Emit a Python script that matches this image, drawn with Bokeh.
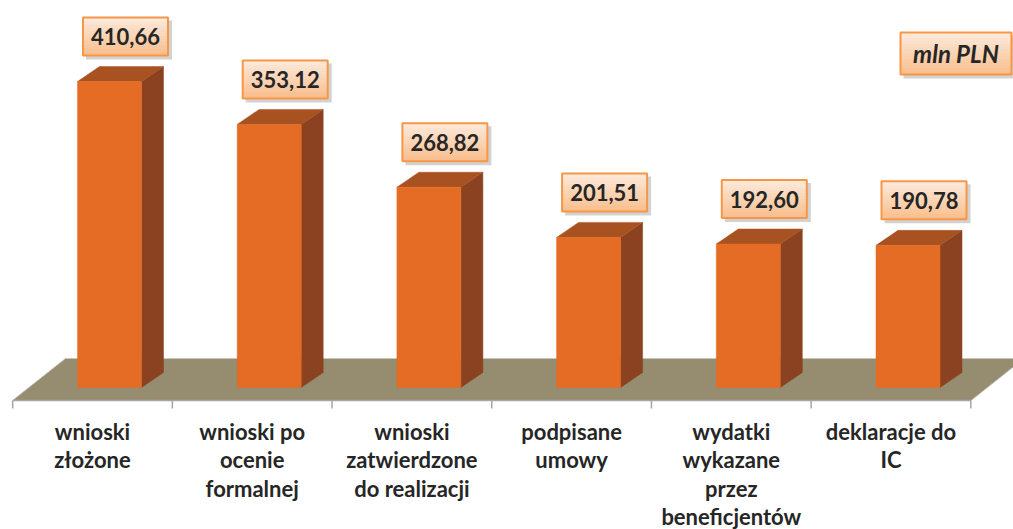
import numpy as np
from bokeh.plotting import figure
from bokeh.models import Range1d
from bokeh.embed import file_html
from bokeh.resources import INLINE
from bokeh.core.properties import value

# ---------------- data ----------------
categories = ["wnioski\nzłożone",
              "wnioski po\nocenie\nformalnej",
              "wnioski\nzatwierdzone\ndo realizacji",
              "podpisane\numowy",
              "wydatki\nwykazane\nprzez\nbeneficjentów",
              "deklaracje do\nIC"]
values = [410.66, 353.12, 268.82, 201.51, 192.60, 190.78]
value_labels = ["410,66", "353,12", "268,82", "201,51", "192,60", "190,78"]
unit_label = "mln PLN"

# ---------------- geometry (pixel calibration) ----------------
W, H = 1013, 529
SX, SY = 159.7, 0.745          # px per category / px per value unit
X0_REF, Y0_REF, OFF = 12.15, 387.0, 0
PX, PY = 1.0 / SX, 1.0 / SY
x_start = (OFF - X0_REF) / SX
x_end = (OFF + W - X0_REF) / SX
y_end = (Y0_REF - OFF) / SY
y_start = (Y0_REF - OFF - H) / SY

FRONT = "#E46C24"
SIDE = "#8B4220"
TOP = "#A85222"
FLOOR = "#968C6F"
BOX_BORDER = "#F79646"
TXT = "#262626"

p = figure(width=W, height=H, output_backend="svg", toolbar_location=None,
           x_range=Range1d(x_start, x_end), y_range=Range1d(y_start, y_end),
           min_border=0, outline_line_color=None)
p.axis.visible = False
p.grid.visible = False
p.background_fill_color = "white"
p.border_fill_color = "white"

n = len(values)
centers = np.arange(n) + 0.5

# ---------------- floor ----------------
fy = -13 * PY
fdx, fdy = 53 * PX, 42 * PY
p.patch([0, n, n + fdx, fdx], [fy, fy, fy + fdy, fy + fdy],
        fill_color=FLOOR, line_color=None)
p.line([0, n], [fy, fy], line_color="#A6A6A6", line_width=1.5)
p.line([0, fdx], [fy, fy + fdy], line_color="#B5B09E", line_width=1)
p.line([n, n + fdx], [fy, fy + fdy], line_color="#B5B09E", line_width=1)
ticks = np.arange(n + 1)
p.segment(x0=ticks, y0=[fy] * (n + 1), x1=ticks, y1=[fy - 8 * PY] * (n + 1),
          line_color="#A6A6A6", line_width=1.5)

# ---------------- 3D bars ----------------
ddx, ddy = 22 * PX, 15 * PY
lefts = centers - 15 * PX
rights = centers + 49 * PX
vals = np.array(values)
front_xs = [[l, r, r, l] for l, r in zip(lefts, rights)]
front_ys = [[0, 0, v, v] for v in vals]
side_xs = [[r, r + ddx, r + ddx, r] for r in rights]
side_ys = [[0, ddy, v + ddy, v] for v in vals]
top_xs = [[l, l + ddx, r + ddx, r] for l, r in zip(lefts, rights)]
top_ys = [[v, v + ddy, v + ddy, v] for v in vals]
p.patches(side_xs, side_ys, fill_color=SIDE, line_color=SIDE, line_width=0.5)
p.patches(top_xs, top_ys, fill_color=TOP, line_color=TOP, line_width=0.5)
p.patches(front_xs, front_ys, fill_color=FRONT, line_color=FRONT, line_width=0.5)

# ---------------- label boxes ----------------
def grad_box(xc, yc, w_px, h_px, nb=14):
    hw, hh = w_px / 2 * PX, h_px / 2 * PY
    # shadow
    p.quad(left=[xc - hw + 3 * PX], right=[xc + hw + 4 * PX],
           bottom=[yc - hh - 4 * PY], top=[yc + hh - 3 * PY],
           fill_color="#7F7F7F", fill_alpha=0.35, line_color=None)
    c0 = np.array([253, 236, 222])
    c1 = np.array([250, 190, 140])
    tops, bots, cols = [], [], []
    for k in range(nb):
        t = yc + hh - 2 * hh * k / nb
        b = yc + hh - 2 * hh * (k + 1) / nb
        f = (k + 0.5) / nb
        c = (c0 * (1 - f) + c1 * f).astype(int)
        tops.append(t); bots.append(b)
        cols.append("#%02x%02x%02x" % tuple(c))
    p.quad(left=[xc - hw] * nb, right=[xc + hw] * nb, top=tops, bottom=bots,
           fill_color=cols, line_color=cols, line_width=0.6)
    p.quad(left=[xc - hw], right=[xc + hw], top=[yc + hh], bottom=[yc - hh],
           fill_color=None, line_color=BOX_BORDER, line_width=2)

box_x = centers + 33 * PX
box_y = vals + 45 * PY
for xc, yc in zip(box_x, box_y):
    grad_box(xc, yc, 85, 38)
p.text(x=box_x, y=box_y, text=value_labels, text_align="center",
       text_baseline="middle", text_font=value("Lato"), text_font_style="bold",
       text_font_size="22px", text_color=TXT)

# unit box (top right)
ux = (955.5 - X0_REF) / SX
uy = (Y0_REF - 53) / SY
grad_box(ux, uy, 111, 42)
p.text(x=[ux], y=[uy], text=[unit_label], text_align="center",
       text_baseline="middle", text_font=value("Lato"),
       text_font_style="bold italic", text_font_size="24px", text_color=TXT)

# ---------------- category labels ----------------
p.text(x=centers, y=[(Y0_REF - 417) / SY] * n, text=categories, text_align="center",
       text_baseline="top", text_font=value("Lato"), text_font_style="bold",
       text_font_size="22px", text_line_height=1.06, text_color=TXT)

open("out.html", "w").write(file_html(p, INLINE))
